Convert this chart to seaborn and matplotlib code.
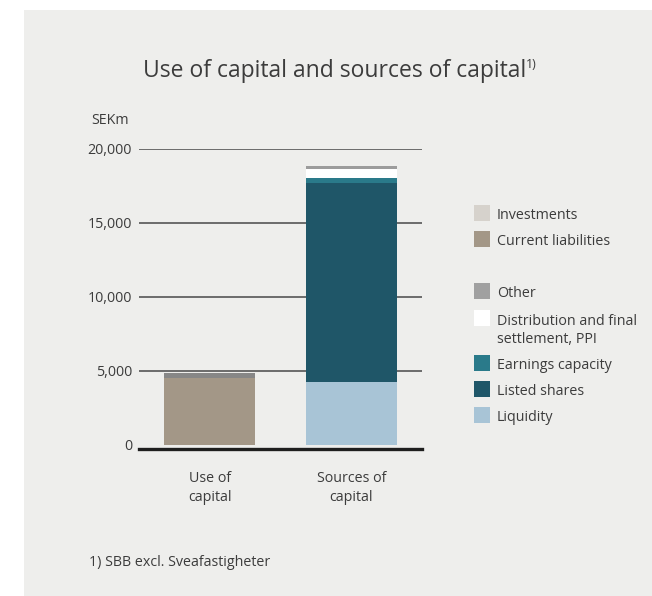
import matplotlib
matplotlib.use("Agg")
import matplotlib.pyplot as plt
from matplotlib.patches import Rectangle
import seaborn as sns

# Data (SEKm)
categories = ["Use of\ncapital", "Sources of\ncapital"]
current_liabilities = [4500, 0]
use_other = [320, 0]
liquidity = [0, 4200]
listed_shares = [0, 13480]
earnings_capacity = [0, 340]
distribution_ppi = [0, 610]
other = [0, 200]

y_ticks = [0, 5000, 10000, 15000, 20000]
y_labels = ["0", "5,000", "10,000", "15,000", "20,000"]

legend_labels = ["Investments", "Current liabilities", "Other",
                 "Distribution and final\nsettlement, PPI", "Earnings capacity",
                 "Listed shares", "Liquidity"]
legend_colors = ["#d6d2cc", "#a39787", "#a0a0a0", "#ffffff", "#2a7a8a",
                 "#1f5668", "#a8c4d6"]

sns.set_style("white")
plt.rcParams["font.family"] = ["Open Sans", "DejaVu Sans"]
txt = "#3c3c3c"
fs = 10.3

W, H = 652, 596
fig = plt.figure(figsize=(W / 100, H / 100), dpi=100, facecolor="white")
fig.add_artist(Rectangle((24 / W, 0), 1, 1 - 10 / H, transform=fig.transFigure,
                         facecolor="#eeeeec", edgecolor="none", zorder=0))

ax = fig.add_axes([139 / W, 1 - 449 / H, (422 - 139) / W, (449 - 149) / H])
ax.set_facecolor("none")

# stacked bars (segments listed bottom to top)
stacks = [
    (current_liabilities, "#a39787"),
    (use_other, "#878787"),
    (liquidity, "#a8c4d6"),
    (listed_shares, "#1f5668"),
    (earnings_capacity, "#2a7a8a"),
    (distribution_ppi, "#ffffff"),
    (other, "#9c9c9c"),
]
bottom = [0, 0]
for vals, col in stacks:
    sns.barplot(x=categories, y=vals, bottom=bottom, color=col, width=0.64,
                saturation=1, ax=ax, zorder=3, linewidth=0)
    bottom = [b + v for b, v in zip(bottom, vals)]

ax.set_xlim(-0.5, 1.5)
ax.set_ylim(-300, 20000)
ax.set_yticks(y_ticks)
ax.set_yticklabels(y_labels)
for y in y_ticks[1:]:
    ax.axhline(y, color="#555555", lw=1.2, zorder=1)
for s in ["top", "right", "left"]:
    ax.spines[s].set_visible(False)
ax.spines["bottom"].set_color("#1e1e1e")
ax.spines["bottom"].set_linewidth(2.4)
ax.tick_params(axis="y", length=0, pad=5, labelsize=fs, labelcolor=txt)
ax.tick_params(axis="x", length=0, pad=16, labelsize=fs, labelcolor=txt)
for t in ax.get_xticklabels():
    t.set_linespacing(1.35)
ax.set_xlabel("")
ax.set_ylabel("")

fig.text(110 / W, 1 - 121 / H, "SEKm", ha="center", va="center",
         fontsize=fs, color=txt)

# title with superscript
title = fig.text(335 / W, 1 - 71 / H, "Use of capital and sources of capital",
                 ha="center", va="center", fontsize=16.5, color=txt)
fig.canvas.draw()
bb = title.get_window_extent()
fig.text((bb.x1 - 1) / W, 1 - 64 / H, "1)", ha="left", va="center",
         fontsize=9, color=txt)

fig.text(89 / W, 1 - 562 / H, "1) SBB excl. Sveafastigheter", ha="left",
         va="center", fontsize=fs, color=txt)

# legend
rows = [213, 239, 291, 318, 363, 389, 415]
for lab, col, y in zip(legend_labels, legend_colors, rows):
    fig.add_artist(Rectangle((474 / W, 1 - (y + 8) / H), 16 / W, 16 / H,
                             transform=fig.transFigure, facecolor=col,
                             edgecolor="none"))
    if "\n" in lab:
        fig.text(497 / W, 1 - (y + 12.5) / H, lab, ha="left", va="center",
                 fontsize=fs, color=txt, linespacing=1.3)
    else:
        fig.text(497 / W, 1 - (y + 2.5) / H, lab, ha="left", va="center",
                 fontsize=fs, color=txt)

fig.savefig("out.png", dpi=100, facecolor="white")
